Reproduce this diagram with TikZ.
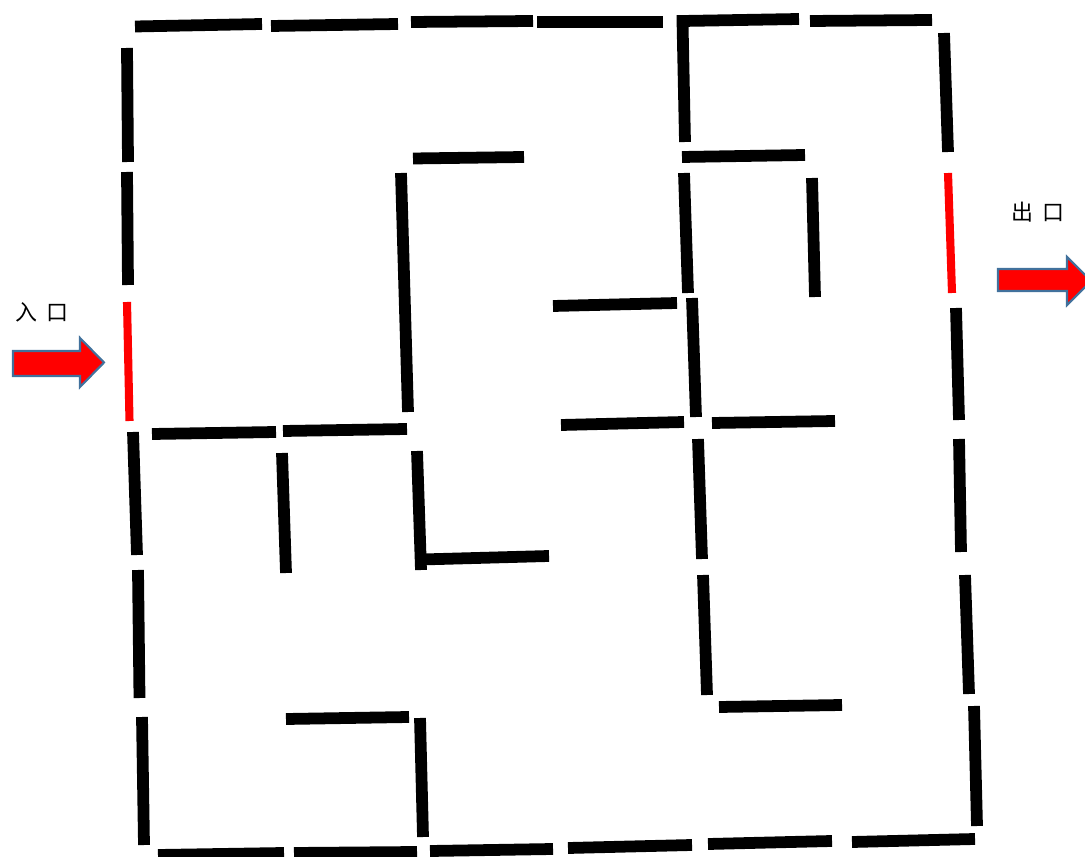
\documentclass[tikz,border=0pt]{standalone}
\usepackage{fontspec}
\newfontfamily\cjk{Noto Sans CJK SC}
\definecolor{arrowborder}{HTML}{41719C}
\begin{document}
\begin{tikzpicture}[x=0.02cm,y=-0.02cm,
  wall/.style={line width=6.7pt,black,line cap=butt},
  door/.style={line width=4.6pt,red,line cap=butt},
  bigarrow/.style={fill=red,draw=arrowborder,line width=1.2pt,line join=miter},
  lbl/.style={font=\cjk\fontsize{12.5}{14}\selectfont,inner sep=0pt}]
\useasboundingbox (0,0) rectangle (1085,857);
\clip (0,0) rectangle (1085,857);
% top border
\draw[wall] (135,26.5) -- (262,24);
\draw[wall] (271,26) -- (398,24);
\draw[wall] (411,22) -- (533,21);
\draw[wall] (537,22) -- (663,22);
\draw[wall,line join=miter] (685,142) -- (682.5,21) -- (799,19);
\draw[wall] (810,21) -- (932,20);
% left border
\draw[wall] (127,48) -- (128,162);
\draw[wall] (127,172) -- (128,285);
\draw[door] (127,302) -- (129.5,421);
\draw[wall] (133,432) -- (137,555);
\draw[wall] (138,570) -- (139.5,698);
\draw[wall] (142,717) -- (144,845);
% right border
\draw[wall] (944,33) -- (948,152);
\draw[door] (948,173) -- (952,293);
\draw[wall] (956,308) -- (959,420);
\draw[wall] (959,439) -- (961,552);
\draw[wall] (965,575) -- (969,694);
\draw[wall] (974,706) -- (977,826);
% bottom border
\draw[wall] (158,855) -- (284,853);
\draw[wall] (294,853) -- (417,852);
\draw[wall] (430,851) -- (553,849);
\draw[wall] (568,848) -- (692,845);
\draw[wall] (708,844) -- (832,841);
\draw[wall] (852,842) -- (975,839);
% interior walls
\draw[wall] (413,158.5) -- (524,157);
\draw[wall] (401,173) -- (408,412);
\draw[wall] (152,434) -- (276,432);
\draw[wall] (283,431) -- (407,429);
\draw[wall] (282,453) -- (286,573);
\draw[wall] (417,451) -- (421,570);
\draw[wall] (421,559.5) -- (549,556);
\draw[wall] (286,719) -- (409,717);
\draw[wall] (420,718) -- (423,837);
\draw[wall] (682,157) -- (805,155);
\draw[wall] (684,173) -- (688,293);
\draw[wall] (812,178) -- (815,297);
\draw[wall] (553,306) -- (677,303);
\draw[wall] (692,298) -- (696,417);
\draw[wall] (561,425) -- (684,422);
\draw[wall] (712,423) -- (835,421);
\draw[wall] (698,439) -- (702,559);
\draw[wall] (703,575) -- (707,695);
\draw[wall] (719,707) -- (842,705);
% entrance arrow and label
\draw[bigarrow] (13,351) -- (80,351) -- (80,338) -- (104,362.5) -- (80,387) -- (80,376) -- (13,376) -- cycle;
\node[lbl] (entry) at (42,312) {入\hspace{0.45em}口};
% exit arrow and label
\draw[bigarrow] (998,269) -- (1067,269) -- (1067,257) -- (1091,281) -- (1067,305) -- (1067,291) -- (998,291) -- cycle;
\node[lbl] (exit) at (1038,212) {出\hspace{0.45em}口};
\end{tikzpicture}
\end{document}
